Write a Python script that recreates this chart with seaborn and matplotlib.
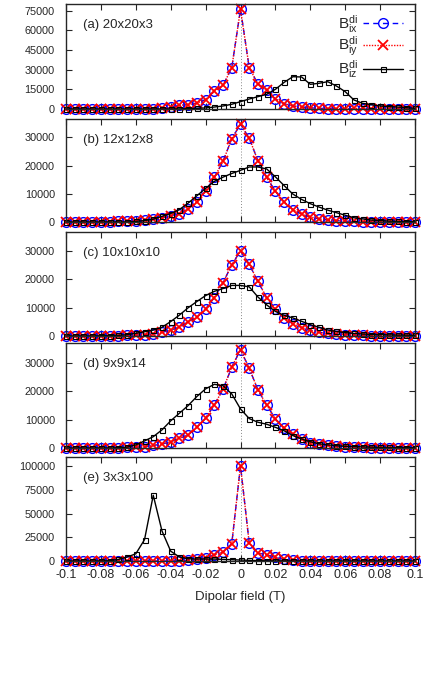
import numpy as np
import matplotlib
matplotlib.use("Agg")
import matplotlib.pyplot as plt
from matplotlib.ticker import FuncFormatter
import seaborn as sns

# -----------------------
# Data (histogram counts), bin centres -0.1 .. 0.1 T
# -----------------------
field = np.linspace(-0.1, 0.1, 41)

bx_a = [0, 0, 0, 0, 0, 0, 0, 0, 0, 100, 200, 500, 1200, 2800, 3300, 4500, 7200, 13500, 18000, 31500,
        76000, 31500, 19000, 14500, 7600, 4000, 2300, 1500, 900, 500, 300, 200, 100, 100, 0, 0, 0, 0, 0, 0, 0]
by_a = [0, 0, 0, 0, 0, 0, 0, 0, 0, 100, 200, 500, 1200, 2800, 3300, 4500, 7200, 13500, 18000, 31500,
        76000, 31500, 19000, 14500, 7600, 4000, 2300, 1500, 900, 500, 300, 300, 200, 400, 500, 300, 200, 200, 100, 100, 0]
bz_a = [0, 0, 0, 0, 0, 0, 0, 0, 0, 0, 0, 0, 0, 100, 300, 500, 800, 1500, 2300, 3600,
        5600, 7600, 9400, 11200, 15000, 20300, 24600, 24400, 18800, 19600, 20800, 17500, 13200, 6900, 4300, 3300, 2300, 1800, 1500, 1000, 500]

bx_b = [0, 0, 0, 0, 0, 100, 200, 300, 500, 700, 1000, 1500, 2200, 3000, 4600, 7100, 11000, 15800, 21500, 29500,
        34700, 29700, 21700, 15800, 10900, 7100, 4400, 2800, 1800, 1100, 700, 500, 300, 200, 100, 100, 0, 0, 0, 0, 0]
by_b = bx_b
bz_b = [0, 0, 0, 0, 0, 0, 0, 0, 200, 500, 1000, 2000, 3000, 4400, 6700, 9300, 11900, 14400, 15900, 17200,
        18300, 19500, 19500, 18800, 16000, 12900, 9900, 8000, 6500, 5300, 4200, 3300, 2400, 1500, 1100, 700, 500, 300, 200, 100, 100]

bx_c = [0, 0, 0, 0, 0, 100, 100, 200, 300, 500, 700, 1300, 2100, 3100, 5100, 6600, 9600, 13600, 18900, 25200,
        30100, 25400, 19300, 13600, 9600, 6400, 4300, 3000, 2000, 1300, 900, 700, 500, 300, 200, 100, 100, 0, 0, 0, 0]
by_c = bx_c
bz_c = [0, 0, 0, 0, 100, 100, 200, 500, 950, 1500, 2100, 3100, 5100, 7400, 10000, 12200, 14300, 15800, 16800, 17900,
        17900, 17400, 13800, 11000, 8700, 7300, 6400, 5200, 4000, 3100, 2100, 1600, 1200, 900, 700, 500, 500, 400, 300, 300, 200]

bx_d = [0, 0, 0, 0, 0, 0, 100, 200, 300, 500, 900, 1400, 2200, 3400, 4600, 7300, 10500, 15200, 20800, 28600,
        34700, 28200, 20500, 15200, 10300, 7000, 4800, 3100, 1900, 1300, 900, 700, 500, 300, 200, 100, 100, 0, 0, 0, 0]
by_d = bx_d
bz_d = [0, 0, 0, 0, 0, 0, 100, 300, 1100, 2500, 4000, 6400, 9600, 12300, 15000, 18200, 20900, 22500, 22000, 19100,
        13800, 10400, 9100, 8400, 7300, 6100, 4400, 3200, 2200, 1500, 1100, 800, 600, 500, 400, 300, 200, 200, 100, 100, 100]

bx_e = [0, 0, 0, 0, 0, 0, 0, 0, 0, 0, 0, 0, 100, 300, 700, 1700, 3500, 6800, 9300, 18400,
        100700, 18900, 8400, 6500, 3800, 1700, 700, 300, 100, 100, 0, 0, 0, 0, 0, 0, 0, 0, 0, 0, 0]
by_e = bx_e
bz_e = [0, 0, 0, 0, 100, 300, 1700, 4200, 7600, 22600, 69500, 31800, 10400, 4200, 2400, 2100, 2100, 2100, 1700, 1400,
        1000, 700, 400, 200, 100, 100, 0, 0, 0, 0, 0, 0, 0, 0, 0, 0, 0, 0, 0, 0, 0]

labels = ["(a) 20x20x3", "(b) 12x12x8", "(c) 10x10x10", "(d) 9x9x14", "(e) 3x3x100"]
panels = [(bx_a, by_a, bz_a), (bx_b, by_b, bz_b), (bx_c, by_c, bz_c), (bx_d, by_d, bz_d), (bx_e, by_e, bz_e)]
ymax = [80000, 36500, 36800, 37100, 110000]
yticks = [np.arange(0, 75001, 15000), [0, 10000, 20000, 30000], [0, 10000, 20000, 30000],
          [0, 10000, 20000, 30000], np.arange(0, 100001, 25000)]
legend_labels = [r"$\mathregular{B^{di}_{ix}}$", r"$\mathregular{B^{di}_{iy}}$", r"$\mathregular{B^{di}_{iz}}$"]

# -----------------------
# Style
# -----------------------
sns.set_style("ticks", {"xtick.direction": "in", "ytick.direction": "in"})
plt.rcParams["font.family"] = ["Liberation Sans", "DejaVu Sans"]
plt.rcParams["mathtext.fontset"] = "custom"
plt.rcParams["mathtext.rm"] = "Liberation Sans"

series_style = [
    dict(color="#0000ff", marker="o", linestyle=(0, (4, 3)), markersize=7, markeredgewidth=1.0, lw=1.0),
    dict(color="#ff0000", marker="x", linestyle=(0, (1, 1)), markersize=6.5, markeredgewidth=1.3, lw=1.0),
    dict(color="black", marker="s", linestyle="-", markersize=3.6, markeredgewidth=0.8, lw=1.0),
]

fig = plt.figure(figsize=(4.36, 6.8), dpi=100)
W, H = 436, 680
left, right = 66, 415
boxes = [(4, 109), (119, 222), (232, 336), (343, 448), (457, 561)]

for k, (top, bot) in enumerate(boxes):
    ax = fig.add_axes([left / W, 1 - bot / H, (right - left) / W, (bot - top) / H])
    ax.axvline(0, color="#888888", linestyle=(0, (1, 2)), lw=0.7, zorder=0)
    for j, vals in enumerate(panels[k]):
        st = series_style[j]
        sns.lineplot(x=field, y=vals, ax=ax, color=st["color"], marker=st["marker"],
                     linestyle=st["linestyle"], markersize=st["markersize"],
                     markeredgewidth=st["markeredgewidth"], markerfacecolor="none",
                     markeredgecolor=st["color"], lw=st["lw"], clip_on=False,
                     errorbar=None, sort=False, label=legend_labels[j] if k == 0 else None)
    ax.set_xlim(-0.1, 0.1)
    ax.set_ylim(0, ymax[k])
    ax.set_yticks(yticks[k])
    ax.set_xticks(np.linspace(-0.1, 0.1, 11))
    ax.yaxis.set_major_formatter(FuncFormatter(lambda v, p: f"{v:.0f}"))
    ax.xaxis.set_major_formatter(FuncFormatter(lambda v, p: f"{round(v, 2) + 0.0:g}"))
    ax.tick_params(which="both", direction="in", top=True, right=True, length=4, width=0.8)
    ax.tick_params(axis="y", labelsize=7.8, pad=8)
    ax.tick_params(axis="x", labelsize=9, pad=6, labelbottom=(k == 4))
    for sp in ax.spines.values():
        sp.set_linewidth(1.0)
        sp.set_visible(True)
    ax.text(0.05, 0.80, labels[k], transform=ax.transAxes, fontsize=9.5, va="center", ha="left")
    ax.set_ylabel("")
    if k == 0:
        ax.legend(loc="upper right", bbox_to_anchor=(0.995, 1.02), frameon=False, markerfirst=False,
                  fontsize=11, handlelength=2.6, labelspacing=0.0, handletextpad=0.35,
                  borderaxespad=0.3)
    else:
        if ax.get_legend() is not None:
            ax.get_legend().remove()
    if k == 4:
        ax.set_xlabel("Dipolar field (T)", fontsize=9.5, labelpad=7)
    else:
        ax.set_xlabel("")

fig.savefig("out.png", dpi=100)
